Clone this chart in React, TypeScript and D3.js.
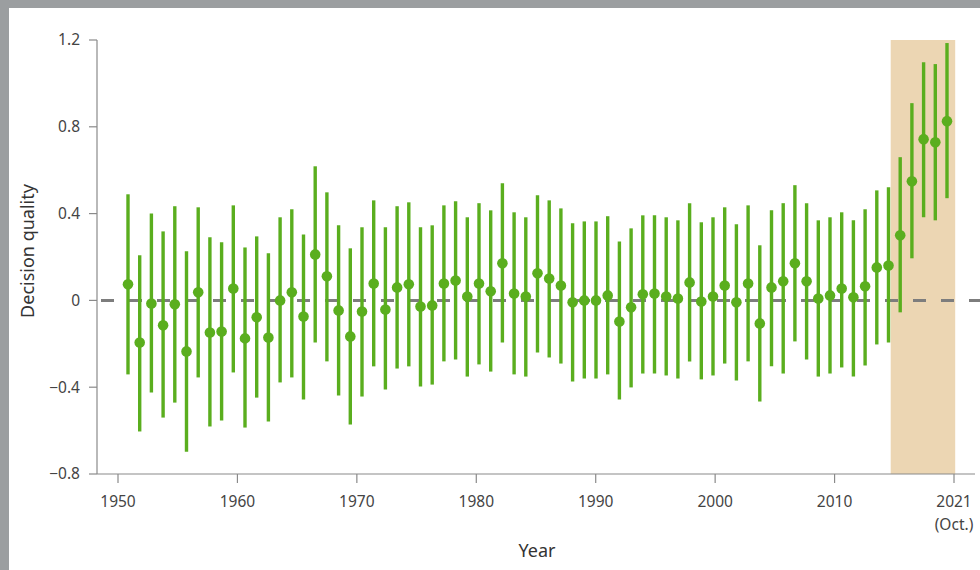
import React from "react";
import * as d3 from "d3";

const years: number[] = Array.from({ length: 71 }, (_, i) => 1951 + i);

const means: number[] = [
  0.074, -0.194, -0.014, -0.115, -0.018, -0.235, 0.037, -0.148, -0.143, 0.055,
  -0.175, -0.078, -0.171, 0.0, 0.037, -0.074, 0.212, 0.111, -0.046, -0.166,
  -0.051, 0.078, -0.042, 0.06, 0.074, -0.028, -0.023, 0.078, 0.092, 0.018,
  0.078, 0.042, 0.171, 0.032, 0.018, 0.125, 0.101, 0.069, -0.009, 0.0,
  0.0, 0.023, -0.097, -0.032, 0.028, 0.032, 0.018, 0.009, 0.083, -0.005,
  0.018, 0.069, -0.009, 0.078, -0.106, 0.06, 0.088, 0.171, 0.088, 0.009,
  0.023, 0.055, 0.014, 0.065, 0.152, 0.161, 0.3, 0.549, 0.743, 0.729, 0.826,
];

const uppers: number[] = [
  0.489, 0.208, 0.401, 0.318, 0.434, 0.226, 0.429, 0.291, 0.268, 0.438,
  0.244, 0.295, 0.217, 0.383, 0.42, 0.304, 0.618, 0.498, 0.346, 0.24,
  0.337, 0.461, 0.337, 0.434, 0.452, 0.337, 0.346, 0.438, 0.457, 0.383,
  0.448, 0.415, 0.54, 0.406, 0.383, 0.484, 0.461, 0.424, 0.355, 0.364,
  0.364, 0.388, 0.272, 0.332, 0.392, 0.392, 0.383, 0.369, 0.448, 0.36,
  0.383, 0.429, 0.351, 0.438, 0.254, 0.415, 0.448, 0.531, 0.448, 0.369,
  0.383, 0.406, 0.369, 0.42, 0.507, 0.521, 0.66, 0.909, 1.098, 1.089, 1.186,
];

const lowers: number[] = [
  -0.341, -0.604, -0.424, -0.54, -0.471, -0.697, -0.355, -0.581, -0.554, -0.332,
  -0.586, -0.448, -0.558, -0.378, -0.355, -0.457, -0.194, -0.281, -0.438, -0.572,
  -0.443, -0.304, -0.411, -0.314, -0.304, -0.397, -0.388, -0.281, -0.272, -0.351,
  -0.295, -0.328, -0.194, -0.341, -0.351, -0.24, -0.263, -0.291, -0.374, -0.36,
  -0.36, -0.341, -0.457, -0.401, -0.337, -0.337, -0.346, -0.36, -0.281, -0.364,
  -0.346, -0.291, -0.369, -0.281, -0.466, -0.304, -0.337, -0.189, -0.272, -0.351,
  -0.337, -0.309, -0.351, -0.3, -0.203, -0.194, -0.055, 0.194, 0.383, 0.369, 0.471,
];

const yTicks: number[] = [-0.8, -0.4, 0, 0.4, 0.8, 1.2];
const yTickLabels: string[] = ["\u22120.8", "\u22120.4", "0", "0.4", "0.8", "1.2"];
const xTicks: number[] = [1950, 1960, 1970, 1980, 1990, 2000, 2010, 2020];
const xTickLabels: string[][] = [
  ["1950"], ["1960"], ["1970"], ["1980"], ["1990"], ["2000"], ["2010"], ["2021", "(Oct.)"],
];
const shadedSpan: number[] = [2014.7, 2020.1];

const GREEN = "#5aae1e";
const FONT = "'Noto Sans', 'Open Sans', sans-serif";

export default function App() {
  const axisLeft = 97;
  const axisBottom = 474;
  const y = d3.scaleLinear().domain([-0.8, 1.2]).range([474, 40]);
  const xAxis = d3.scaleLinear().domain([1950, 2020]).range([118, 954]);
  const xData = d3.scalePoint<number>().domain(years).range([128, 947]);

  return (
    <div style={{ position: "absolute", left: 0, top: 0 }}>
      <svg width={980} height={570} style={{ display: "block" }}>
        <rect x={0} y={0} width={980} height={570} fill="#9b9ea0" />
        <rect x={9} y={8} width={971} height={562} fill="#ffffff" />

        <rect
          x={xAxis(shadedSpan[0])}
          y={y(1.2)}
          width={xAxis(shadedSpan[1]) - xAxis(shadedSpan[0])}
          height={y(-0.8) - y(1.2)}
          fill="#ecd6b3"
        />

        <line
          x1={axisLeft + 4}
          x2={980}
          y1={y(0)}
          y2={y(0)}
          stroke="#7d7d7d"
          strokeWidth={3}
          strokeDasharray="13,15"
        />

        <line x1={axisLeft} x2={axisLeft} y1={y(1.2)} y2={axisBottom} stroke="#8a8a8a" strokeWidth={1.2} />
        <line x1={axisLeft} x2={975} y1={axisBottom} y2={axisBottom} stroke="#8a8a8a" strokeWidth={1.2} />

        {yTicks.map((t, i) => (
          <g key={"yt" + i}>
            <line x1={axisLeft - 8} x2={axisLeft} y1={y(t)} y2={y(t)} stroke="#8a8a8a" strokeWidth={1.2} />
            <text
              x={80}
              y={y(t)}
              dy="0.35em"
              textAnchor="end"
              fontFamily={FONT}
              fontSize={15.5}
              fill="#444"
            >
              {yTickLabels[i]}
            </text>
          </g>
        ))}

        {xTicks.map((t, i) => (
          <g key={"xt" + i}>
            <line x1={xAxis(t)} x2={xAxis(t)} y1={axisBottom} y2={axisBottom + 9} stroke="#8a8a8a" strokeWidth={1.2} />
            {xTickLabels[i].map((s, j) => (
              <text
                key={j}
                x={xAxis(t)}
                y={507 + j * 23}
                textAnchor="middle"
                fontFamily={FONT}
                fontSize={15.5}
                fill="#444"
              >
                {s}
              </text>
            ))}
          </g>
        ))}

        {years.map((yr, i) => (
          <line
            key={"e" + yr}
            x1={xData(yr)}
            x2={xData(yr)}
            y1={y(uppers[i])}
            y2={y(lowers[i])}
            stroke={GREEN}
            strokeWidth={3.4}
          />
        ))}
        {years.map((yr, i) => (
          <circle key={"c" + yr} cx={xData(yr)} cy={y(means[i])} r={5.3} fill={GREEN} />
        ))}

        <text x={537} y={557} textAnchor="middle" fontFamily={FONT} fontSize={18} fill="#333">
          Year
        </text>
        <text
          transform={`translate(34, ${251}) rotate(-90)`}
          textAnchor="middle"
          fontFamily={FONT}
          fontSize={18}
          fill="#333"
        >
          Decision quality
        </text>
      </svg>
    </div>
  );
}
